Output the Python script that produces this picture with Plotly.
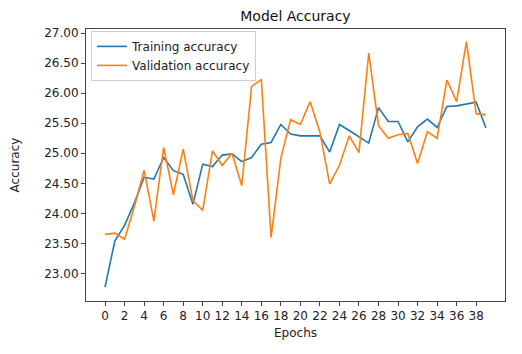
import plotly.graph_objects as go

epochs = list(range(40))
training_accuracy = [22.77, 23.54, 23.80, 24.17, 24.60, 24.57, 24.93, 24.71, 24.65, 24.15,
                     24.82, 24.78, 24.97, 24.99, 24.86, 24.93, 25.15, 25.18, 25.48, 25.32,
                     25.29, 25.29, 25.29, 25.02, 25.48, 25.38, 25.28, 25.17, 25.76, 25.53,
                     25.53, 25.19, 25.44, 25.57, 25.43, 25.78, 25.79, 25.82, 25.85, 25.42]
validation_accuracy = [23.65, 23.67, 23.57, 24.11, 24.72, 23.87, 25.10, 24.31, 25.07, 24.21,
                       24.05, 25.04, 24.80, 25.00, 24.46, 26.11, 26.23, 23.60, 24.92, 25.56,
                       25.48, 25.86, 25.35, 24.49, 24.80, 25.29, 25.01, 26.67, 25.46, 25.25,
                       25.31, 25.33, 24.83, 25.36, 25.25, 26.22, 25.86, 26.86, 25.66, 25.64]
x_tick_values = list(range(0, 40, 2))
y_tick_values = [23.0, 23.5, 24.0, 24.5, 25.0, 25.5, 26.0, 26.5, 27.0]

FONT = "DejaVu Sans"
fig = go.Figure()
fig.add_trace(go.Scatter(x=epochs, y=training_accuracy, mode="lines",
                         name="Training accuracy",
                         line=dict(color="#1f77b4", width=1.6)))
fig.add_trace(go.Scatter(x=epochs, y=validation_accuracy, mode="lines",
                         name="Validation accuracy",
                         line=dict(color="#ff7f0e", width=1.6)))

axis_common = dict(showgrid=False, zeroline=False, showline=True, mirror=True,
                   automargin=False,
                   linecolor="#444", linewidth=1, ticks="outside", ticklen=4,
                   tickcolor="#444", tickfont=dict(family=FONT, size=12, color="#222"))

fig.update_layout(
    width=522, height=354,
    margin=dict(l=86, r=17, t=29, b=53),
    paper_bgcolor="white", plot_bgcolor="white",
    title=dict(text="Model Accuracy", x=0.566, xanchor="center", y=0.955, yanchor="middle",
               font=dict(family=FONT, size=14, color="#111")),
    xaxis=dict(range=[-1.95, 40.95], tickvals=x_tick_values,
               title=dict(text="Epochs", standoff=6,
                          font=dict(family=FONT, size=12, color="#222")),
               **axis_common),
    yaxis=dict(range=[22.54, 27.07], tickvals=y_tick_values,
               tickformat=".2f", ticksuffix="%",
               title=dict(text="Accuracy", standoff=22,
                          font=dict(family=FONT, size=12, color="#222")),
               **axis_common),
    legend=dict(x=0.012, y=0.993, xanchor="left", yanchor="top",
                bgcolor="white", bordercolor="#ccc", borderwidth=1,
                font=dict(family=FONT, size=12, color="#222"),
                itemwidth=30, tracegroupgap=0),
    showlegend=True,
)

fig.write_html("out.html", config={"displayModeBar": False},
               post_script="document.body.style.margin='0';")
